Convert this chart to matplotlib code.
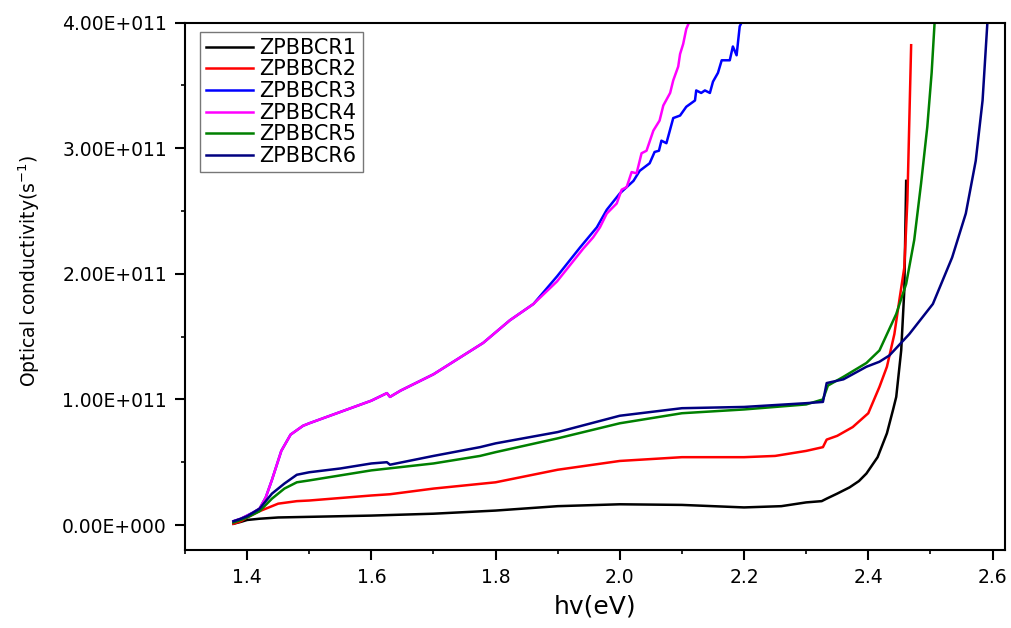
import numpy as np
from matplotlib import pyplot as plt
from matplotlib.ticker import FuncFormatter, MultipleLocator

plt.rcParams['font.family'] = ['DejaVu Sans']

# values, y in units of 1e11 s^-1
x1 = [1.378, 1.39, 1.40, 1.42, 1.45, 1.50, 1.60, 1.70, 1.80, 1.90, 2.00, 2.10, 2.20, 2.26,
      2.30, 2.325, 2.333, 2.35, 2.37, 2.385, 2.397, 2.415, 2.43, 2.44, 2.445, 2.453, 2.458, 2.461]
y1 = [0.01, 0.025, 0.04, 0.05, 0.06, 0.065, 0.075, 0.09, 0.115, 0.15, 0.165, 0.16, 0.14, 0.15,
      0.18, 0.19, 0.21, 0.25, 0.30, 0.35, 0.41, 0.54, 0.73, 0.92, 1.02, 1.39, 1.87, 2.74]

x2 = [1.378, 1.39, 1.40, 1.42, 1.45, 1.48, 1.50, 1.60, 1.63, 1.70, 1.80, 1.90, 2.00, 2.10, 2.20,
      2.25, 2.30, 2.327, 2.333, 2.35, 2.375, 2.40, 2.418, 2.43, 2.442, 2.45, 2.458, 2.463, 2.469]
y2 = [0.01, 0.03, 0.06, 0.11, 0.17, 0.19, 0.195, 0.235, 0.245, 0.29, 0.34, 0.44, 0.51, 0.54, 0.54,
      0.55, 0.59, 0.62, 0.68, 0.71, 0.78, 0.89, 1.10, 1.26, 1.52, 1.79, 2.05, 2.59, 3.82]

# ZPBBCR3 and ZPBBCR4 overlap up to ~1.86 eV
x_common = [1.378, 1.39, 1.40, 1.41, 1.42, 1.43, 1.44, 1.455, 1.47, 1.49, 1.50, 1.55, 1.60,
            1.625, 1.63, 1.647, 1.70, 1.716, 1.78, 1.823, 1.861]
y_common = [0.03, 0.05, 0.075, 0.10, 0.13, 0.22, 0.36, 0.59, 0.72, 0.79, 0.81, 0.90, 0.99,
            1.05, 1.02, 1.07, 1.20, 1.25, 1.45, 1.63, 1.76]

x3 = x_common + [1.899, 1.936, 1.963, 1.979, 2.000, 2.022, 2.032, 2.048, 2.056, 2.063, 2.067,
                 2.075, 2.086, 2.097, 2.107, 2.121, 2.123, 2.131, 2.137, 2.145, 2.150, 2.158,
                 2.164, 2.177, 2.182, 2.188, 2.193, 2.198]
y3 = y_common + [1.98, 2.21, 2.37, 2.51, 2.64, 2.74, 2.82, 2.88, 2.97, 2.98, 3.06,
                 3.04, 3.24, 3.26, 3.33, 3.38, 3.46, 3.44, 3.46, 3.44, 3.53, 3.60,
                 3.70, 3.70, 3.81, 3.74, 3.97, 4.02]

x4 = x_common + [1.899, 1.941, 1.957, 1.968, 1.979, 1.995, 2.003, 2.011, 2.019, 2.027, 2.035,
                 2.043, 2.054, 2.064, 2.070, 2.081, 2.086, 2.094, 2.097, 2.102, 2.107, 2.113]
y4 = y_common + [1.94, 2.20, 2.29, 2.37, 2.48, 2.56, 2.67, 2.69, 2.81, 2.80, 2.96,
                 2.98, 3.14, 3.22, 3.34, 3.44, 3.54, 3.65, 3.75, 3.83, 3.95, 4.02]

x5 = [1.378, 1.39, 1.40, 1.42, 1.44, 1.46, 1.48, 1.50, 1.60, 1.70, 1.775, 1.80, 1.90, 2.00,
      2.10, 2.20, 2.30, 2.327, 2.335, 2.36, 2.397, 2.418, 2.445, 2.461, 2.474, 2.485, 2.495,
      2.502, 2.507]
y5 = [0.02, 0.04, 0.06, 0.11, 0.21, 0.29, 0.34, 0.355, 0.435, 0.49, 0.55, 0.58, 0.69, 0.81,
      0.89, 0.92, 0.96, 1.0, 1.11, 1.18, 1.29, 1.39, 1.68, 1.92, 2.27, 2.72, 3.17, 3.60, 4.02]

x6 = [1.378, 1.39, 1.40, 1.42, 1.44, 1.46, 1.48, 1.50, 1.55, 1.60, 1.625, 1.63, 1.70, 1.775,
      1.80, 1.90, 2.00, 2.10, 2.20, 2.30, 2.327, 2.333, 2.36, 2.397, 2.418, 2.434, 2.466,
      2.504, 2.535, 2.557, 2.573, 2.584, 2.592]
y6 = [0.03, 0.05, 0.07, 0.13, 0.25, 0.33, 0.40, 0.42, 0.45, 0.49, 0.50, 0.48, 0.55, 0.62,
      0.65, 0.74, 0.87, 0.93, 0.94, 0.97, 0.98, 1.13, 1.16, 1.26, 1.30, 1.35, 1.52,
      1.76, 2.13, 2.48, 2.90, 3.38, 4.02]

labels = ['ZPBBCR1', 'ZPBBCR2', 'ZPBBCR3', 'ZPBBCR4', 'ZPBBCR5', 'ZPBBCR6']
colors = ['#000000', '#ff0000', '#0000ff', '#ff00ff', '#008000', '#000080']


def sci_fmt(v, pos):
    if v == 0:
        return '0.00E+000'
    e = int(np.floor(np.log10(abs(v))))
    return f'{v / 10**e:.2f}E{e:+04d}'


fig = plt.figure(figsize=(10.11, 6.28), dpi=100)
ax = fig.add_axes([0.183, 0.124, 0.811, 0.840])

series = [(x1, y1), (x2, y2), (x3, y3), (x4, y4), (x5, y5), (x6, y6)]
for (xs, ys), lab, c in zip(series, labels, colors):
    ax.plot(xs, np.array(ys) * 1e11, color=c, lw=1.8, label=lab)

ax.set_xlim(1.30, 2.62)
ax.set_ylim(-0.2e11, 4.0e11)
ax.xaxis.set_major_locator(MultipleLocator(0.2))
ax.xaxis.set_minor_locator(MultipleLocator(0.1))
ax.yaxis.set_major_locator(MultipleLocator(1e11))
ax.yaxis.set_minor_locator(MultipleLocator(0.5e11))
ax.yaxis.set_major_formatter(FuncFormatter(sci_fmt))
ax.xaxis.set_major_formatter(FuncFormatter(lambda v, p: f'{v:.1f}'))

ax.tick_params(which='major', direction='out', length=7, width=1.5, labelsize=13.5, pad=6)
ax.tick_params(which='minor', direction='out', length=3, width=1.2)
for s in ax.spines.values():
    s.set_linewidth(1.5)

ax.set_xlabel('hv(eV)', fontsize=18, labelpad=5)
ax.set_ylabel('Optical conductivity(s$^{\\mathregular{-1}}$)', fontsize=13.5)
ax.yaxis.set_label_coords(-0.175, 0.53)

# legend box about 195..376 px wide in the reference
leg = ax.legend(loc='upper left', bbox_to_anchor=(0.018, 0.983), fontsize=15,
                handlelength=2.25, handletextpad=0.3, labelspacing=0.08,
                borderpad=0.3, borderaxespad=0.0, fancybox=False, frameon=True)
leg.get_frame().set_edgecolor('#555555')
leg.get_frame().set_linewidth(1.0)

fig.savefig('out.png', dpi=100)
